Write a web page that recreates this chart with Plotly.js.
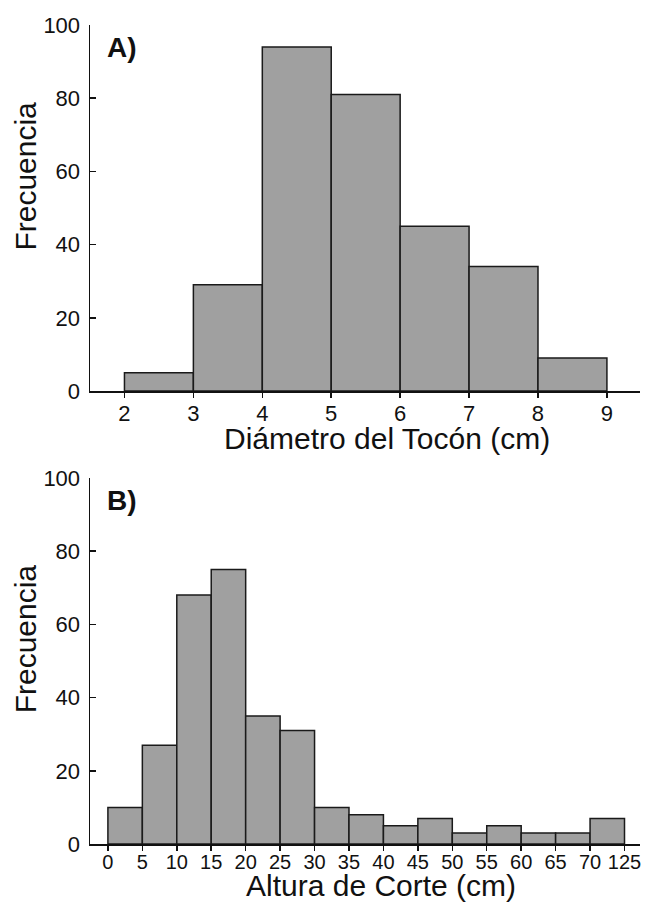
<!DOCTYPE html>
<html>
<head>
<meta charset="utf-8">
<script src="https://cdn.plot.ly/plotly-3.0.1.min.js"></script>
<style>
html,body{margin:0;padding:0;background:#fff;}
#chart{width:649px;height:904px;}
</style>
</head>
<body>
<div id="chart"></div>
<script>
// Panel A: Diámetro del Tocón (cm)
const diamEdges = [2, 3, 4, 5, 6, 7, 8, 9];
const diamFreq = [5, 29, 94, 81, 45, 34, 9];

// Panel B: Altura de Corte (cm) — bins drawn with equal width
const alturaLabels = ["0", "5", "10", "15", "20", "25", "30", "35", "40", "45", "50", "55", "60", "65", "70", "125"];
const alturaFreq = [10, 27, 68, 75, 35, 31, 10, 8, 5, 7, 3, 5, 3, 3, 7];

const yTicks = [0, 20, 40, 60, 80, 100];

const diamCenters = diamFreq.map((_, i) => (diamEdges[i] + diamEdges[i + 1]) / 2);
const alturaIdx = alturaLabels.map((_, i) => i);
const alturaCenters = alturaFreq.map((_, i) => i + 0.5);

const font = "Liberation Sans, Arial, Helvetica, sans-serif";
const ink = "#111";
const barStyle = {color: "#a0a0a0", line: {color: "#1a1a1a", width: 1.5}};

const traces = [
  {type: "bar", x: diamCenters, y: diamFreq, width: 1, marker: barStyle, xaxis: "x", yaxis: "y"},
  {type: "bar", x: alturaCenters, y: alturaFreq, width: 1, marker: barStyle, xaxis: "x2", yaxis: "y2"}
];

const yCommon = {
  range: [0, 100], tickvals: yTicks, ticks: "inside", ticklen: 6, tickwidth: 1.5, tickcolor: ink,
  showline: true, linecolor: ink, linewidth: 1.5, showgrid: false, zeroline: false,
  tickfont: {family: font, size: 22, color: ink}, ticklabelstandoff: 4
};
const xCommon = {
  ticks: "outside", ticklen: 5, tickwidth: 1.5, tickcolor: ink,
  showline: true, linecolor: ink, linewidth: 1.5, showgrid: false, zeroline: false
};

const titleFont = {family: font, size: 30, color: ink};
const labelFont = {family: font, size: 28, color: ink};

const layout = {
  width: 649, height: 904,
  margin: {l: 90, r: 9, t: 25, b: 60},
  paper_bgcolor: "#fff", plot_bgcolor: "#fff",
  showlegend: false, bargap: 0,
  xaxis: Object.assign({}, xCommon, {
    domain: [0, 1], anchor: "y", range: [1.5, 9.48], tickvals: diamEdges,
    tickfont: {family: font, size: 22, color: ink}, ticklabelstandoff: -3
  }),
  yaxis: Object.assign({}, yCommon, {domain: [0.5531, 1], anchor: "x"}),
  xaxis2: Object.assign({}, xCommon, {
    domain: [0, 1], anchor: "y2", range: [-0.52, 15.45], tickvals: alturaIdx, ticktext: alturaLabels,
    tickfont: {family: font, size: 20, color: ink}, ticklabelstandoff: -6
  }),
  yaxis2: Object.assign({}, yCommon, {domain: [0, 0.4469], anchor: "x2"}),
  annotations: [
    {text: "Diámetro del Tocón (cm)", xref: "paper", yref: "paper", x: 0.54, y: 0.495, xanchor: "center", yanchor: "middle", showarrow: false, font: titleFont},
    {text: "Altura de Corte (cm)", xref: "paper", yref: "paper", x: 0.529, y: -0.051, xanchor: "center", yanchor: "middle", showarrow: false, font: titleFont},
    {text: "Frecuencia", xref: "paper", yref: "paper", x: -0.118, y: 0.815, xanchor: "center", yanchor: "middle", textangle: -90, showarrow: false, font: titleFont},
    {text: "Frecuencia", xref: "paper", yref: "paper", x: -0.118, y: 0.250, xanchor: "center", yanchor: "middle", textangle: -90, showarrow: false, font: titleFont},
    {text: "<b>A)</b>", xref: "paper", yref: "paper", x: 0.027, y: 0.973, xanchor: "left", yanchor: "middle", showarrow: false, font: labelFont},
    {text: "<b>B)</b>", xref: "paper", yref: "paper", x: 0.027, y: 0.419, xanchor: "left", yanchor: "middle", showarrow: false, font: labelFont}
  ]
};

Plotly.newPlot("chart", traces, layout, {staticPlot: true, displayModeBar: false});
</script>
</body>
</html>
